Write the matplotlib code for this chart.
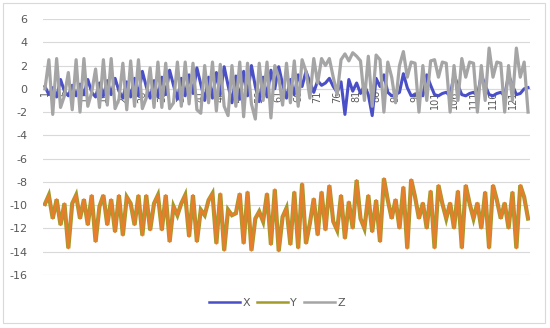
import matplotlib
matplotlib.use("Agg")
import matplotlib.pyplot as plt
from matplotlib.patches import Rectangle

X = [0.2, -0.5, 0.1, -0.7, 0.8, -0.2, -0.6,
     0.3, -0.6, 0.4, -0.5, 0.8, -0.3, -0.7,
     0.5, -0.6, 0.7, -0.5, 0.9, -0.2, -0.8,
     0.6, -0.7, 0.9, -0.6, 1.5, 0.2, -0.8,
     0.7, -0.7, 1.0, -0.5, 1.6, 0.3, -0.9,
     0.9, -0.6, 1.2, -0.4, 1.8, 0.4, -1.0,
     1.0, -0.8, 1.4, -0.5, 1.9, 0.3, -1.2,
     1.1, -0.9, 1.5, -0.6, 2.0, 0.2, -1.1,
     1.0, -0.7, 1.6, 0.0, 1.9, 0.4, -0.8,
     0.8, -0.5, 1.2, 0.2, 1.5, 0.6, -0.3,
     0.7, 0.3, 0.5, 0.9, 0.2, -0.3, 0.6,
     -2.2, 0.8, -0.2, 0.5, -0.4, 0.3, -0.5,
     -2.3, 0.9, 0.2, 1.2, -0.3, -0.6, -0.5,
     -0.3, 1.3, 0.1, -0.6, -0.5, -0.4, -0.6,
     1.2, 0.3, -0.5, -0.6, -0.4, -0.3, -0.6,
     1.2, 0.3, -0.5, -0.6, -0.4, -0.3, -0.6,
     1.2, 0.3, -0.5, -0.6, -0.4, -0.3, -0.6,
     1.2, 0.3, -0.5, -0.4, 0.0, 0.1]

Y = [-9.9, -9.14, -11.15, -9.5, -11.7, -9.85, -13.7, -9.85, -9.14, -11.15,
     -9.5, -11.7, -9.14, -13.15, -10.1, -9.14, -11.7, -9.5, -12.3, -9.14,
     -12.6, -9.3, -9.85, -11.7, -9.14, -12.6, -9.14, -12.15, -9.85, -9.14,
     -12.15, -9.14, -13.15, -10.1, -10.86, -9.85, -9.14, -12.7, -9.14, -13.15,
     -10.4, -10.86, -9.57, -9.0, -13.3, -9.0, -13.9, -10.4, -10.86, -10.7,
     -9.0, -13.3, -8.85, -13.9, -11.15, -10.55, -11.4, -9.0, -13.4, -8.65,
     -13.95, -11.0, -10.25, -13.4, -8.85, -13.7, -8.14, -13.3, -11.56, -9.43,
     -12.58, -8.85, -12.15, -8.3, -11.4, -12.15, -9.14, -12.87, -9.7, -12.0,
     -7.85, -11.15, -12.0, -9.14, -12.3, -9.57, -13.15, -7.7, -9.57, -11.15,
     -9.5, -12.0, -8.43, -13.72, -7.79, -9.29, -11.15, -9.8, -12.0, -8.77,
     -13.7, -8.28, -9.86, -11.15, -9.8, -12.0, -8.77, -13.7, -8.28, -9.86,
     -11.15, -9.8, -12.0, -8.86, -13.7, -8.28, -9.57, -11.15, -9.8, -12.0,
     -8.86, -13.7, -8.28, -9.3, -11.15]

Z = [0.0, 2.5, -2.2, 2.6, -1.6, -0.6, 1.4, -1.8, 2.5, -2.0,
     2.6, -1.5, -0.3, 1.7, -1.6, 2.5, -1.4, 2.6, -1.7, -0.9,
     2.2, -1.8, 2.4, -1.5, 2.5, -1.7, -0.8, 1.8, -1.6, 2.3,
     -1.6, 2.2, -1.7, -1.2, 2.3, -1.5, 2.3, -1.3, 2.2, -1.8,
     -2.1, 2.0, -1.2, 2.3, -1.9, 2.1, -1.5, -2.3, 2.0, -1.5,
     2.3, -2.4, 2.2, -1.3, -2.6, 2.2, -1.0, 2.3, -2.5, 2.0,
     1.0, -1.4, 2.2, -1.2, 2.4, -1.5, 2.5, 1.5, -0.8, 2.6,
     0.5, 2.6, 2.0, 2.6, 1.0, -0.5, 2.5, 3.0, 2.4, 3.1,
     2.8, 2.4, -1.0, 2.8, -1.5, 2.9, 2.5, -2.0, 2.3, 1.0,
     -1.2, 2.0, 3.2, 1.0, 2.3, 2.2, -2.0, 2.0, -1.0, 2.4,
     2.5, 1.0, 2.3, 2.2, -2.0, 2.0, -1.0, 2.6, 1.0, 2.3,
     2.2, -2.0, 2.0, -1.0, 3.5, 1.0, 2.3, 2.2, -2.0, 2.0,
     -1.0, 3.5, 1.0, 2.3, -2.0]

series_names = ["X", "Y", "Z"]
y_ticks = [6, 4, 2, 0, -2, -4, -6, -8, -10, -12, -14, -16]

fig = plt.figure(figsize=(5.5, 3.28), dpi=100)
fig.patches.append(Rectangle((3/550, 5/328), 542/550, 320/328, transform=fig.transFigure,
                             fill=False, edgecolor="#d9d9d9", linewidth=0.8))
ax = fig.add_axes([43/550, 1 - 275/328, 487/550, 256/328])

n = len(Y)
xs = list(range(1, n + 1))
ax.plot(range(1, len(X) + 1), X, color="#4a4fc8", lw=2.2, label=series_names[0],
        solid_joinstyle="round", zorder=3)
ax.plot(xs, Y, color="#a39a2c", lw=3.0, label=series_names[1],
        solid_joinstyle="miter", zorder=3)
ax.plot(xs, Y, color="#ea7d2c", lw=1.6, solid_joinstyle="round", zorder=3.1)
ax.plot(range(1, len(Z) + 1), Z, color="#a5a5a5", lw=2.3, label=series_names[2],
        solid_joinstyle="round", zorder=4)

ax.set_xlim(0.5, n + 0.5)
ax.set_ylim(-16, 6)
ax.set_yticks(y_ticks)
ax.set_yticklabels([str(v) for v in y_ticks])
ax.yaxis.grid(True, color="#d9d9d9", lw=0.8)
ax.set_axisbelow(True)
for s in ["top", "right", "left"]:
    ax.spines[s].set_visible(False)
ax.spines["bottom"].set_position(("data", 0))
ax.spines["bottom"].set_color("#d9d9d9")
ax.tick_params(axis="y", length=0, labelsize=8, labelcolor="#595959", pad=11)
ax.set_xticks(list(range(1, n + 1, 5)))
ax.set_xticklabels([str(v) for v in range(1, n + 1, 5)], rotation=90)
ax.tick_params(axis="x", length=0, labelsize=7, labelcolor="#595959", pad=1)
for lab in ax.get_xticklabels():
    lab.set_zorder(2)

leg = fig.legend(loc="center", bbox_to_anchor=(277/550, 1 - 303/328), ncol=3,
                 frameon=False, fontsize=8, handlelength=2.8, columnspacing=0.6,
                 handletextpad=0.2, labelcolor="#595959")
for h in leg.get_lines():
    h.set_linewidth(1.8)
fig.savefig("out.png", dpi=100)
